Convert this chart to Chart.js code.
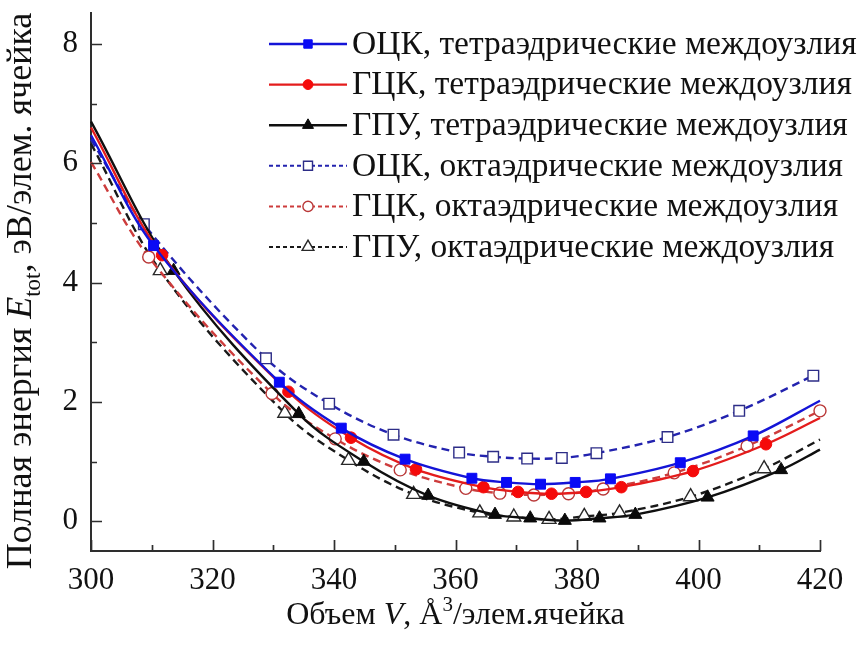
<!DOCTYPE html>
<html>
<head>
<meta charset="utf-8">
<script src="https://cdn.jsdelivr.net/npm/chart.js@4/dist/chart.umd.min.js"></script>
<style>
  html, body { margin: 0; padding: 0; background: #ffffff; }
  #wrap { width: 861px; height: 646px; position: relative; }
</style>
</head>
<body>
<div id="wrap"><canvas id="c" width="861" height="646"></canvas></div>
<script>
// Axis tick labels
const volumeTicks = [300, 320, 340, 360, 380, 400, 420];
const energyTicks = [0, 2, 4, 6, 8];
const volumeMinorStep = 10;
const energyMinorStep = 1;

// Series labels
const seriesLabels = [
  'ОЦК, тетраэдрические междоузлия',
  'ГЦК, тетраэдрические междоузлия',
  'ГПУ, тетраэдрические междоузлия',
  'ОЦК, октаэдрические междоузлия',
  'ГЦК, октаэдрические междоузлия',
  'ГПУ, октаэдрические междоузлия'
];

// Computed points (V, Å^3/cell ; E_tot, eV/cell)
const bccTetraV = [310.3, 331.0, 341.2, 351.7, 362.7, 368.4, 374.0, 379.7, 385.5, 397.0, 409.0];
const bccTetraE = [4.62, 2.33, 1.56, 1.04, 0.72, 0.65, 0.62, 0.65, 0.71, 0.98, 1.43];
const fccTetraV = [311.7, 332.5, 342.8, 353.5, 364.6, 370.3, 375.8, 381.5, 387.3, 399.1, 411.1];
const fccTetraE = [4.46, 2.17, 1.40, 0.87, 0.57, 0.49, 0.46, 0.49, 0.57, 0.84, 1.29];
const hcpTetraV = [313.6, 334.2, 344.9, 355.5, 366.5, 372.3, 378.0, 383.7, 389.6, 401.5, 413.6];
const hcpTetraE = [4.20, 1.80, 1.00, 0.43, 0.11, 0.05, 0.01, 0.05, 0.11, 0.40, 0.86];
const bccOctaV = [308.7, 328.8, 339.2, 349.8, 360.6, 366.2, 371.8, 377.5, 383.2, 394.9, 406.7, 418.9];
const bccOctaE = [4.98, 2.73, 1.97, 1.45, 1.15, 1.08, 1.05, 1.06, 1.14, 1.41, 1.85, 2.44];
const fccOctaV = [309.5, 329.8, 340.2, 350.9, 361.7, 367.3, 372.9, 378.6, 384.3, 396.0, 408.0, 420.0];
const fccOctaE = [4.43, 2.14, 1.38, 0.86, 0.55, 0.47, 0.44, 0.46, 0.54, 0.81, 1.26, 1.85];
const hcpOctaV = [311.4, 331.9, 342.4, 353.1, 364.0, 369.6, 375.4, 381.2, 387.0, 398.7, 410.8];
const hcpOctaE = [4.20, 1.81, 1.02, 0.45, 0.14, 0.07, 0.03, 0.08, 0.14, 0.41, 0.88];

// Fitted curve values at the plot edges V = 300 and V = 420 (null: curve ends at last point)
const bccTetraEdge = [6.47, 2.02];
const fccTetraEdge = [6.60, 1.73];
const hcpTetraEdge = [6.70, 1.20];
const bccOctaEdge = [6.40, null];
const fccOctaEdge = [6.02, null];
const hcpOctaEdge = [6.33, 1.37];

const V_MIN = 300, V_MAX = 420;

function buildSeries(vs, es, edge) {
  const pts = [];
  const radii = [];
  if (edge[0] !== null) { pts.push({ x: V_MIN, y: edge[0] }); radii.push(0); }
  vs.forEach((v, i) => { pts.push({ x: v, y: es[i] }); radii.push(1); });
  if (edge[1] !== null) { pts.push({ x: V_MAX, y: edge[1] }); radii.push(0); }
  return { pts, radii };
}

const styles = [
  { line: 'rgb(20,20,215)', dash: [], shape: 'rect', r: 7, fill: 'rgb(10,10,245)', edge: 'rgb(10,10,245)', ew: 1 },
  { line: 'rgb(228,28,28)', dash: [], shape: 'circle', r: 5.8, fill: 'rgb(245,10,10)', edge: 'rgb(245,10,10)', ew: 1 },
  { line: 'rgb(15,15,15)', dash: [], shape: 'triangle', r: 7.5, fill: 'rgb(10,10,10)', edge: 'rgb(10,10,10)', ew: 1 },
  { line: 'rgb(35,35,175)', dash: [8, 5], shape: 'rect', r: 7.5, fill: '#ffffff', edge: 'rgb(45,45,135)', ew: 1.4 },
  { line: 'rgb(205,60,60)', dash: [8, 5], shape: 'circle', r: 6, fill: '#ffffff', edge: 'rgb(185,55,55)', ew: 1.4 },
  { line: 'rgb(25,25,25)', dash: [8, 5], shape: 'triangle', r: 8, fill: '#ffffff', edge: 'rgb(40,40,40)', ew: 1.4 }
];

const raw = [
  buildSeries(bccTetraV, bccTetraE, bccTetraEdge),
  buildSeries(fccTetraV, fccTetraE, fccTetraEdge),
  buildSeries(hcpTetraV, hcpTetraE, hcpTetraEdge),
  buildSeries(bccOctaV, bccOctaE, bccOctaEdge),
  buildSeries(fccOctaV, fccOctaE, fccOctaEdge),
  buildSeries(hcpOctaV, hcpOctaE, hcpOctaEdge)
];

const datasets = raw.map((s, i) => {
  const st = styles[i];
  return {
    label: seriesLabels[i],
    data: s.pts,
    borderColor: st.line,
    borderWidth: 2.4,
    borderDash: st.dash,
    tension: 0.35,
    fill: false,
    clip: false,
    pointStyle: st.shape,
    pointRadius: s.radii.map(k => k * st.r),
    pointHoverRadius: s.radii.map(k => k * st.r),
    pointBackgroundColor: st.fill,
    pointBorderColor: st.edge,
    pointBorderWidth: st.ew
  };
});

const SERIF = '"Liberation Serif", "Times New Roman", serif';
const TICK_FONT = 31;
const LEGEND_FONT = 33.5;
const XTITLE_FONT = 32;
const YTITLE_FONT = 36;

function markerPath(ctx, shape, x, y, r) {
  ctx.beginPath();
  if (shape === 'rect') {
    const s = r * Math.SQRT1_2;
    ctx.rect(x - s, y - s, 2 * s, 2 * s);
  } else if (shape === 'circle') {
    ctx.arc(x, y, r, 0, Math.PI * 2);
  } else {
    let a = 0;
    ctx.moveTo(x + Math.sin(a) * r, y - Math.cos(a) * r);
    a += 2 * Math.PI / 3;
    ctx.lineTo(x + Math.sin(a) * r, y - Math.cos(a) * r);
    a += 2 * Math.PI / 3;
    ctx.lineTo(x + Math.sin(a) * r, y - Math.cos(a) * r);
    ctx.closePath();
  }
}

// Inward tick marks (major + minor) on both axes
const axisMarks = {
  id: 'axisMarks',
  afterDatasetsDraw(chart) {
    const { ctx, chartArea: a, scales: { x, y } } = chart;
    ctx.save();
    ctx.strokeStyle = '#2e2e2e';
    ctx.lineWidth = 1.7;
    ctx.beginPath();
    for (let v = V_MIN; v <= V_MAX + 1e-6; v += volumeMinorStep) {
      const px = Math.round(x.getPixelForValue(v)) + 0.5;
      const len = volumeTicks.includes(v) ? 11 : 6;
      ctx.moveTo(px, a.bottom);
      ctx.lineTo(px, a.bottom - len);
    }
    for (let v = 0; v <= 8 + 1e-6; v += energyMinorStep) {
      const py = Math.round(y.getPixelForValue(v)) + 0.5;
      const len = energyTicks.includes(v) ? 11 : 6;
      ctx.moveTo(a.left, py);
      ctx.lineTo(a.left + len, py);
    }
    ctx.stroke();
    ctx.restore();
  }
};

// Legend: line sample with marker, then label
const lineLegend = {
  id: 'lineLegend',
  afterDraw(chart) {
    const { ctx } = chart;
    const x0 = 269, x1 = 347, xm = 308, y0 = 44, dy = 40.6;
    ctx.save();
    ctx.font = LEGEND_FONT + 'px ' + SERIF;
    ctx.textBaseline = 'middle';
    ctx.fillStyle = '#111';
    chart.data.datasets.forEach((ds, i) => {
      const st = styles[i];
      const yy = y0 + i * dy;
      ctx.save();
      ctx.strokeStyle = st.line;
      ctx.lineWidth = st.dash.length ? 2 : 2.4;
      ctx.setLineDash(st.dash.length ? [4, 3] : []);
      ctx.beginPath();
      ctx.moveTo(x0, yy);
      ctx.lineTo(x1, yy);
      ctx.stroke();
      ctx.setLineDash([]);
      markerPath(ctx, st.shape, xm, yy, st.r * 0.85);
      ctx.fillStyle = st.fill;
      ctx.fill();
      ctx.lineWidth = st.ew;
      ctx.strokeStyle = st.edge;
      ctx.stroke();
      ctx.restore();
      ctx.fillText(ds.label, 352, yy + 1);
    });
    ctx.restore();
  }
};

// Axis titles with italic symbols, subscript and superscript
function setRunFont(ctx, r) {
  ctx.font = (r.italic ? 'italic ' : '') + r.size + 'px ' + SERIF;
}
function drawRuns(ctx, runs, startX, baseY) {
  let x = startX;
  runs.forEach(r => {
    setRunFont(ctx, r);
    ctx.fillText(r.t, x, baseY + (r.shift || 0));
    x += ctx.measureText(r.t).width;
  });
}
function runsWidth(ctx, runs) {
  let w = 0;
  runs.forEach(r => { setRunFont(ctx, r); w += ctx.measureText(r.t).width; });
  return w;
}

const axisTitles = {
  id: 'axisTitles',
  afterDraw(chart) {
    const { ctx, chartArea: a } = chart;
    ctx.save();
    ctx.fillStyle = '#111';
    ctx.textBaseline = 'alphabetic';
    const F = XTITLE_FONT;
    const xRuns = [
      { t: 'Объем ', size: F },
      { t: 'V', size: F, italic: true },
      { t: ', Å', size: F },
      { t: '3', size: 21, shift: -13 },
      { t: '/элем.ячейка', size: F }
    ];
    const wx = runsWidth(ctx, xRuns);
    drawRuns(ctx, xRuns, (a.left + a.right) / 2 - wx / 2, 624);

    const G = YTITLE_FONT;
    const yRuns = [
      { t: 'Полная энергия ', size: G },
      { t: 'E', size: G, italic: true },
      { t: 'tot', size: 23, shift: 9 },
      { t: ', эВ/элем. ячейка', size: G }
    ];
    const wy = runsWidth(ctx, yRuns);
    ctx.translate(31, 291);
    ctx.rotate(-Math.PI / 2);
    drawRuns(ctx, yRuns, -wy / 2, 0);
    ctx.restore();
  }
};

new Chart(document.getElementById('c'), {
  type: 'line',
  data: { datasets },
  options: {
    responsive: false,
    animation: false,
    devicePixelRatio: 1,
    layout: { padding: { top: 13, right: 41, left: 0, bottom: 0 } },
    plugins: { legend: { display: false }, tooltip: { enabled: false } },
    scales: {
      x: {
        type: 'linear',
        min: V_MIN,
        max: V_MAX,
        afterBuildTicks: s => { s.ticks = volumeTicks.map(v => ({ value: v })); },
        afterFit: s => { s.height = 95; s.paddingLeft = 0; s.paddingRight = 0; },
        grid: { display: false, drawTicks: false },
        border: { display: true, color: '#2e2e2e', width: 2 },
        ticks: { font: { family: SERIF, size: TICK_FONT }, color: '#111', padding: 11, maxRotation: 0 }
      },
      y: {
        type: 'linear',
        min: -0.5,
        max: 8.52,
        afterBuildTicks: s => { s.ticks = energyTicks.map(v => ({ value: v })); },
        afterFit: s => { s.width = 91; s.paddingTop = 0; s.paddingBottom = 0; },
        grid: { display: false, drawTicks: false },
        border: { display: true, color: '#2e2e2e', width: 2 },
        ticks: { font: { family: SERIF, size: TICK_FONT }, color: '#111', padding: 13 }
      }
    }
  },
  plugins: [axisMarks, lineLegend, axisTitles]
});
</script>
</body>
</html>
